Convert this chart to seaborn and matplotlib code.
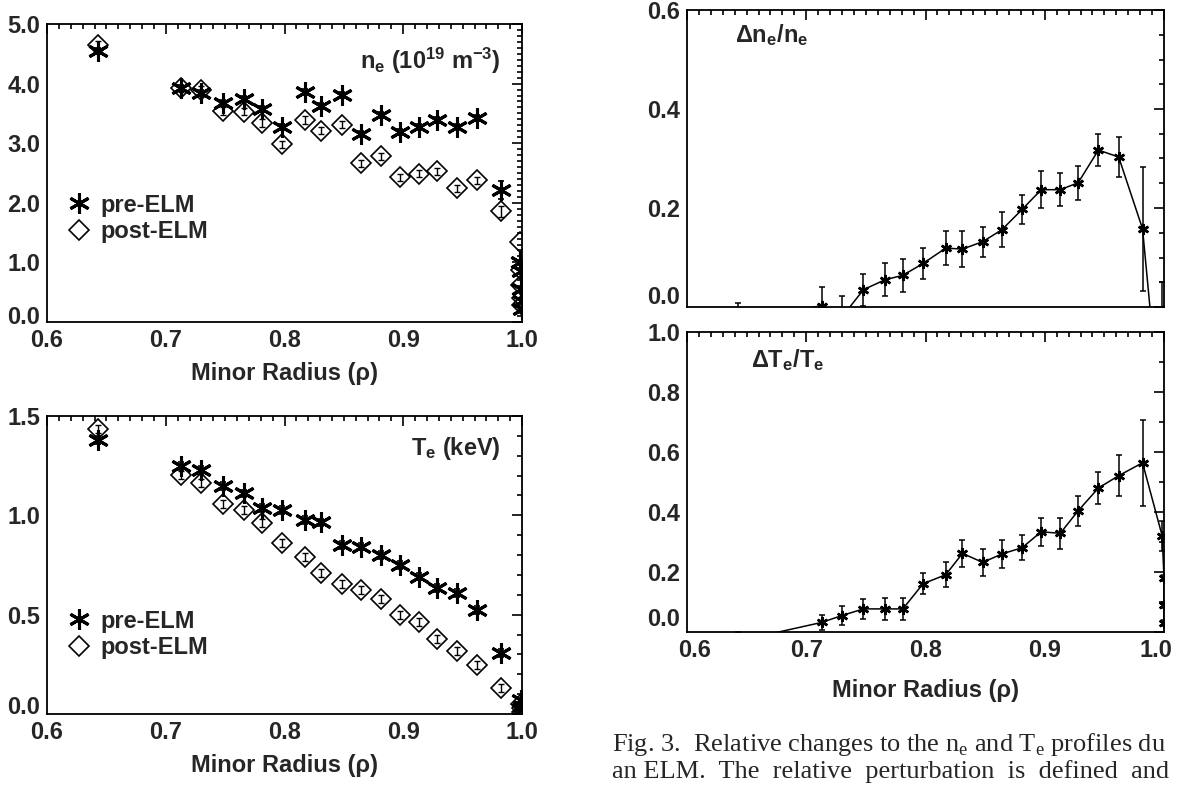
import numpy as np
import pandas as pd
import seaborn as sns
import matplotlib
matplotlib.use("Agg")
import matplotlib.pyplot as plt
from matplotlib import font_manager
from matplotlib.ticker import MultipleLocator, FuncFormatter
from matplotlib.lines import Line2D

# ---------------- data ----------------
rho = [0.643, 0.713, 0.730, 0.748, 0.766, 0.781, 0.798, 0.817, 0.831,
       0.848, 0.864, 0.881, 0.897, 0.913, 0.928, 0.945, 0.962, 0.982]
rho_edge = [0.998, 0.999, 0.9995, 1.0, 1.0]

ne_pre = [4.54, 3.92, 3.84, 3.68, 3.74, 3.57, 3.27, 3.86, 3.62,
          3.81, 3.15, 3.47, 3.19, 3.28, 3.39, 3.28, 3.43, 2.21]
ne_pre_err = [0.05, 0.05, 0.05, 0.05, 0.05, 0.05, 0.05, 0.05, 0.05,
              0.05, 0.05, 0.05, 0.05, 0.05, 0.05, 0.05, 0.05, 0.15]
ne_post = [4.65, 3.92, 3.90, 3.54, 3.53, 3.34, 2.98, 3.39, 3.21,
           3.31, 2.66, 2.78, 2.43, 2.49, 2.53, 2.24, 2.38, 1.86]
ne_post_err = [0.06] * 17 + [0.09]
ne_pre_edge = [1.00, 0.85, 0.55, 0.35, 0.22]
ne_post_edge = [1.35, 0.88, 0.62, 0.40, 0.28]

te_pre = [1.38, 1.25, 1.23, 1.15, 1.11, 1.036, 1.027, 0.977, 0.964,
          0.851, 0.843, 0.801, 0.751, 0.692, 0.634, 0.609, 0.525, 0.307]
te_post = [1.433, 1.203, 1.165, 1.058, 1.027, 0.960, 0.863, 0.789, 0.709,
           0.654, 0.625, 0.578, 0.499, 0.463, 0.377, 0.315, 0.249, 0.132]
te_err = [0.02] * 18
rho_te_edge = [0.999, 1.0, 1.0]
te_pre_edge = [0.07, 0.04, 0.02]
te_post_edge = [0.05, 0.03, 0.01]

rho_dne = rho + [0.998]
dne = [-0.030, 0.003, -0.020, 0.035, 0.055, 0.064, 0.088, 0.119, 0.117,
       0.132, 0.156, 0.197, 0.237, 0.237, 0.251, 0.317, 0.303, 0.158, -0.25]
dne_err = [0.039, 0.038, 0.043, 0.032, 0.033, 0.033, 0.032, 0.035, 0.036,
           0.030, 0.035, 0.029, 0.037, 0.033, 0.034, 0.033, 0.040, 0.125, 0.30]

rho_dte = rho + [0.9985, 1.0, 1.0, 1.0]
dte = [-0.030, 0.032, 0.055, 0.077, 0.077, 0.077, 0.161, 0.191, 0.262,
       0.232, 0.260, 0.281, 0.334, 0.329, 0.404, 0.480, 0.521, 0.564,
       0.320, 0.180, 0.090, 0.030]
dte_err = [0.030, 0.026, 0.032, 0.033, 0.038, 0.038, 0.035, 0.042, 0.045,
           0.044, 0.046, 0.042, 0.046, 0.052, 0.049, 0.052, 0.069, 0.144,
           0.050, 0.010, 0.010, 0.010]

# ---------------- style ----------------
sns.set_theme(style="white")
avail = {f.name for f in font_manager.fontManager.ttflist}
sans = "Liberation Sans Narrow" if "Liberation Sans Narrow" in avail else "Liberation Sans"
plt.rcParams["font.family"] = [sans, "DejaVu Sans"]
plt.rcParams["font.weight"] = "bold"
plt.rcParams["mathtext.fontset"] = "custom"
plt.rcParams["mathtext.rm"] = f"{sans}:bold"
plt.rcParams["mathtext.it"] = f"{sans}:bold"
plt.rcParams["mathtext.bf"] = f"{sans}:bold"
plt.rcParams["mathtext.default"] = "rm"

W, H = 1178, 785
fig = plt.figure(figsize=(W / 100, H / 100), dpi=100)
fig.patch.set_facecolor("white")


def px_axes(l, t, r, b):
    return fig.add_axes([l / W, 1 - b / H, (r - l) / W, (b - t) / H])


ax_ne = px_axes(47, 24, 522, 322)
ax_te = px_axes(47, 416, 522, 714)
ax_dn = px_axes(687, 10, 1164, 307)
ax_dt = px_axes(687, 332, 1164, 632)

TICK_FS = 17
LABEL_FS = 17
ast = (6, 2, 0)


def fmt_skip(skip):
    def f(v, pos):
        for s in skip:
            if abs(v - s) < 1e-9:
                return ""
        return f"{v:.1f}"
    return FuncFormatter(f)


def style_axes(ax, ymaj, ymin, ylim, xlabels=True, y0_dy=6, x_edge_dx=None):
    ax.set_facecolor("white")
    for s in ax.spines.values():
        s.set_visible(True)
        s.set_color("black")
        s.set_linewidth(1.3)
    ax.set_xlim(0.6, 1.0)
    ax.set_ylim(*ylim)
    ax.xaxis.set_major_locator(MultipleLocator(0.1))
    ax.xaxis.set_minor_locator(MultipleLocator(0.01))
    ax.yaxis.set_major_locator(MultipleLocator(ymaj))
    ax.yaxis.set_minor_locator(MultipleLocator(ymin))
    ax.yaxis.set_major_formatter(fmt_skip([0.0]))
    # lowest y label sits a little above the axis, as in the IDL original
    ax.annotate("0.0", xy=(0, 0), xycoords=ax.get_yaxis_transform(),
                xytext=(-7, y0_dy), textcoords="offset pixels",
                ha="right", va="center", fontsize=TICK_FS, fontweight="bold")
    if x_edge_dx is not None and xlabels:
        ax.xaxis.set_major_formatter(fmt_skip([0.6, 1.0]))
        for xv, dx in ((0.6, x_edge_dx), (1.0, -x_edge_dx)):
            ax.annotate(f"{xv:.1f}", xy=(xv, 0), xycoords=ax.get_xaxis_transform(),
                        xytext=(dx, -7), textcoords="offset pixels",
                        ha="center", va="top", fontsize=TICK_FS, fontweight="bold")
    else:
        ax.xaxis.set_major_formatter(FuncFormatter(lambda v, p: f"{v:.1f}"))
    ax.tick_params(which="both", direction="in", top=True, right=True,
                   color="black", width=1.2)
    ax.tick_params(which="major", length=7, labelsize=TICK_FS, pad=5)
    ax.tick_params(which="minor", length=3.5)
    if not xlabels:
        ax.tick_params(axis="x", labelbottom=False)
    ax.grid(False)


def left_panel(ax, pre, pre_err, post, post_err, rx_edge, pre_edge, post_edge,
               ylim, ymaj, ymin, y0_dy):
    df_pre = pd.DataFrame({"rho": rho + rx_edge, "v": pre + pre_edge})
    df_post = pd.DataFrame({"rho": rho + rx_edge, "v": post + post_edge})
    ax.errorbar(rho, pre, yerr=pre_err, fmt="none", ecolor="black",
                elinewidth=1.2, capsize=2.5, capthick=1.2)
    ax.errorbar(rho, post, yerr=post_err, fmt="none", ecolor="black",
                elinewidth=1.0, capsize=2.0, capthick=1.0)
    sns.lineplot(data=df_post, x="rho", y="v", ax=ax, estimator=None, sort=False,
                 linestyle="", marker="D", markersize=10, markerfacecolor="none",
                 markeredgecolor="black", markeredgewidth=1.2, color="black")
    sns.lineplot(data=df_pre, x="rho", y="v", ax=ax, estimator=None, sort=False,
                 linestyle="", marker=ast, markersize=15, markeredgecolor="black",
                 markeredgewidth=2.2, color="black")
    style_axes(ax, ymaj, ymin, ylim, y0_dy=y0_dy)
    ax.set_ylabel("")
    ax.set_xlabel("Minor Radius (ρ)", fontsize=LABEL_FS, fontweight="bold", labelpad=7)
    handles = [Line2D([], [], linestyle="", marker=ast, markersize=15, color="black",
                      markeredgewidth=2.2),
               Line2D([], [], linestyle="", marker="D", markersize=10, markerfacecolor="none",
                      markeredgecolor="black", markeredgewidth=1.2)]
    return handles


leg_kw = dict(loc="upper left", frameon=False, handlelength=1.0, handletextpad=0.4,
              labelspacing=0.15, borderpad=0, prop={"size": 17, "weight": "bold"})

h = left_panel(ax_ne, ne_pre, ne_pre_err, ne_post, ne_post_err, rho_edge,
               ne_pre_edge, ne_post_edge, (0.0, 5.0), 1.0, 0.1, 5)
ax_ne.legend(h, ["pre-ELM", "post-ELM"], bbox_to_anchor=(0.018, 0.47), **leg_kw)
ax_ne.text(0.955, 0.875, r"n$_\mathregular{e}$ (10$^\mathregular{19}$ m$^\mathregular{-3}$)",
           transform=ax_ne.transAxes, ha="right", va="center", fontsize=17, fontweight="bold")

h = left_panel(ax_te, te_pre, te_err, te_post, te_err, rho_te_edge,
               te_pre_edge, te_post_edge, (0.0, 1.5), 0.5, 0.1, 6)
ax_te.legend(h, ["pre-ELM", "post-ELM"], bbox_to_anchor=(0.018, 0.39), **leg_kw)
ax_te.text(0.955, 0.89, r"T$_\mathregular{e}$ (keV)", transform=ax_te.transAxes,
           ha="right", va="center", fontsize=17, fontweight="bold")


def right_panel(ax, rx, vals, errs, ylim, ymaj, ymin, xlabels, y0_dy):
    df = pd.DataFrame({"rho": rx, "v": vals})
    ax.errorbar(rx, vals, yerr=errs, fmt="none", ecolor="black",
                elinewidth=1.1, capsize=2.5, capthick=1.1)
    sns.lineplot(data=df, x="rho", y="v", ax=ax, estimator=None, sort=False,
                 color="black", linewidth=1.1, marker=ast, markersize=8,
                 markeredgewidth=1.8, markeredgecolor="black")
    style_axes(ax, ymaj, ymin, ylim, xlabels=xlabels, y0_dy=y0_dy,
               x_edge_dx=8 if xlabels else None)
    ax.set_ylabel("")
    ax.set_xlabel("")


right_panel(ax_dn, rho_dne, dne, dne_err, (0.0, 0.6), 0.2, 0.05, False, 9)
ax_dn.text(0.10, 0.915, r"Δn$_\mathregular{e}$/n$_\mathregular{e}$", transform=ax_dn.transAxes,
           ha="left", va="center", fontsize=17, fontweight="bold")

right_panel(ax_dt, rho_dte, dte, dte_err, (0.0, 1.0), 0.2, 0.1, True, 12)
ax_dt.text(0.135, 0.905, r"ΔT$_\mathregular{e}$/T$_\mathregular{e}$", transform=ax_dt.transAxes,
           ha="left", va="center", fontsize=17, fontweight="bold")
ax_dt.set_xlabel("Minor Radius (ρ)", fontsize=LABEL_FS, fontweight="bold", labelpad=12)

# caption (serif, cut at the right edge like the source)
cap_kw = dict(fontsize=19, family=["Liberation Serif", "DejaVu Serif"], fontweight="normal",
              ha="left", va="center")
fig.text(612 / W, 1 - 745 / H,
         r"Fig. 3.  Relative changes to the n$_\mathregular{e}$ and T$_\mathregular{e}$ profiles du",
         **cap_kw)
fig.text(612 / W, 1 - 772 / H,
         "an ELM.  The  relative  perturbation  is  defined  and", **cap_kw)

fig.savefig("out.png", dpi=100, facecolor="white")
